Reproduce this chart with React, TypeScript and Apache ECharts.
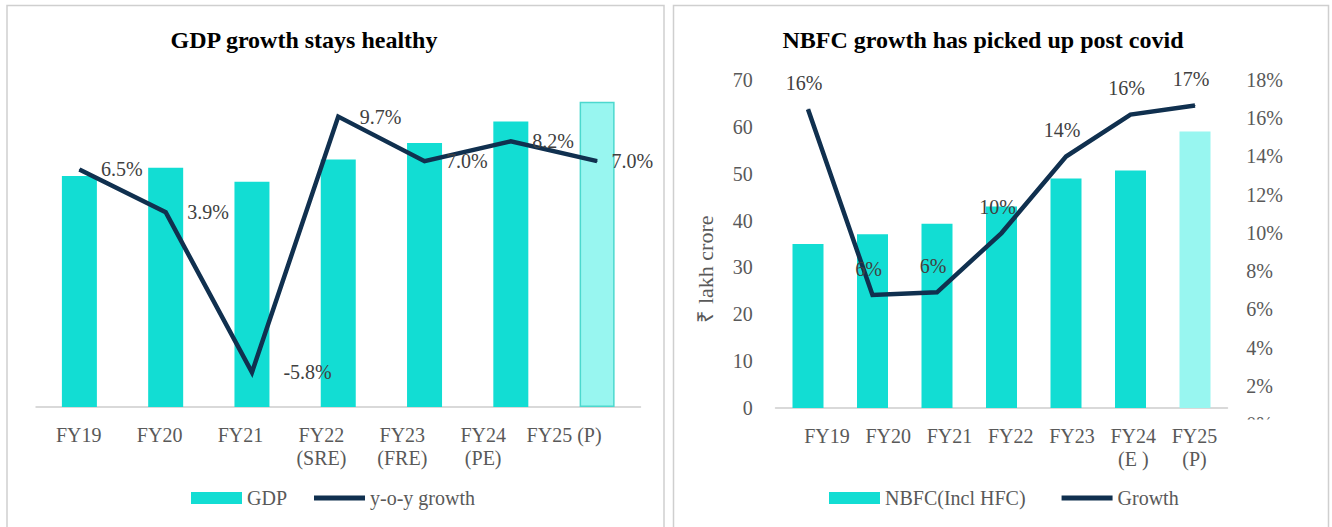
import React, { useEffect, useRef } from "react";
import * as echarts from "echarts";

// ---- Left chart data ----
const gdpCategories = ["FY19", "FY20", "FY21", "FY22\n(SRE)", "FY23\n(FRE)", "FY24\n(PE)", "FY25 (P)"];
const gdpValues = [140, 145, 136.5, 150, 160, 173, 185];
const gdpGrowth = [6.5, 3.9, -5.8, 9.7, 7.0, 8.2, 7.0];

// ---- Right chart data ----
const nbfcCategories = ["FY19", "FY20", "FY21", "FY22", "FY23", "FY24\n(E )", "FY25\n(P)"];
const nbfcValues = [35, 37.1, 39.3, 43, 49, 50.7, 59];
const nbfcGrowth = [16.4, 6.2, 6.35, 9.6, 13.8, 16.1, 16.6];
const nbfcGrowthLabels = ["16%", "6%", "6%", "10%", "14%", "16%", "17%"];
const leftAxisTicks = { min: 0, max: 70, interval: 10 };
const rightAxisTicks = { min: 0, max: 18, interval: 2 };

const FONT = "'Liberation Serif', 'Times New Roman', serif";
const TEAL = "#12DDD3";
const TEAL_LIGHT = "#98F6F0";
const NAVY = "#10304F";
const AXIS_TEXT = "#595959";
const DATA_TEXT = "#404040";

export default function App() {
  const ref = useRef<HTMLDivElement>(null);

  useEffect(() => {
    if (!ref.current) return;
    const chart = echarts.init(ref.current, undefined, { renderer: "svg" });

    const hiddenCat = (grid: number, data: string[]) => ({
      type: "category",
      gridIndex: grid,
      data,
      show: false,
    });

    const labelAxis = (grid: number, data: string[]) => ({
      type: "category",
      gridIndex: grid,
      data,
      axisLine: { show: false },
      axisTick: { show: false },
      axisLabel: {
        interval: 0,
        fontSize: 20,
        fontFamily: FONT,
        color: AXIS_TEXT,
        margin: 16,
        lineHeight: 23,
      },
    });

    const option: any = {
      animation: false,
      backgroundColor: "#ffffff",
      textStyle: { fontFamily: FONT },
      grid: [
        { left: 36.25, top: 77, width: 604, height: 330, outerBoundsMode: "none" },
        { left: 38.25, top: 77, width: 566.3, height: 330, outerBoundsMode: "none" },
        { left: 775.75, top: 80, width: 451.5, height: 328, outerBoundsMode: "none" },
        { left: 796.4, top: 80, width: 428.75, height: 328, outerBoundsMode: "none" },
        { left: 775.75, top: 80, width: 451.5, height: 344, outerBoundsMode: "none" },
      ],
      xAxis: [
        {
          type: "category",
          gridIndex: 0,
          data: gdpCategories,
          axisLine: { show: true, lineStyle: { color: "#d9d9d9", width: 2 } },
          axisTick: { show: false },
          axisLabel: { show: false },
        },
        labelAxis(1, gdpCategories),
        {
          type: "category",
          gridIndex: 2,
          data: nbfcCategories,
          axisLine: { show: true, lineStyle: { color: "#d9d9d9", width: 2 } },
          axisTick: { show: false },
          axisLabel: { show: false },
        },
        labelAxis(3, nbfcCategories),
        hiddenCat(4, nbfcCategories),
      ],
      yAxis: [
        { type: "value", gridIndex: 0, min: 0, max: 200, show: false },
        { type: "value", gridIndex: 0, min: -7.9, max: 12.1, show: false },
        { type: "value", gridIndex: 1, min: 0, max: 1, show: false },
        {
          type: "value",
          gridIndex: 2,
          position: "left",
          min: leftAxisTicks.min,
          max: leftAxisTicks.max,
          interval: leftAxisTicks.interval,
          axisLine: { show: false },
          axisTick: { show: false },
          splitLine: { show: false },
          axisLabel: { fontSize: 20, fontFamily: FONT, color: AXIS_TEXT, margin: 23 },
        },
        { type: "value", gridIndex: 2, min: 0, max: 18, show: false },
        { type: "value", gridIndex: 3, min: 0, max: 1, show: false },
        {
          type: "value",
          gridIndex: 4,
          position: "right",
          min: rightAxisTicks.min,
          max: rightAxisTicks.max,
          interval: rightAxisTicks.interval,
          axisLine: { show: false },
          axisTick: { show: false },
          splitLine: { show: false },
          axisLabel: {
            fontSize: 20,
            fontFamily: FONT,
            color: AXIS_TEXT,
            margin: 19,
            formatter: "{value}%",
          },
        },
      ],
      legend: [
        {
          left: 191,
          top: 488,
          padding: 0,
          itemWidth: 51,
          itemHeight: 12,
          itemGap: 27,
          textStyle: { fontSize: 20, fontFamily: FONT, color: AXIS_TEXT },
          data: [
            { name: "GDP", icon: "rect" },
            { name: "y-o-y growth", icon: "path://M0,0 L51,0 L51,5 L0,5 Z" },
          ],
          selectedMode: false,
        },
        {
          left: 829,
          top: 488,
          padding: 0,
          itemWidth: 51,
          itemHeight: 12,
          itemGap: 36,
          textStyle: { fontSize: 20, fontFamily: FONT, color: AXIS_TEXT },
          data: [
            { name: "NBFC(Incl HFC)", icon: "rect" },
            { name: "Growth", icon: "path://M0,0 L51,0 L51,5 L0,5 Z" },
          ],
          selectedMode: false,
        },
      ],
      series: [
        {
          name: "GDP",
          type: "bar",
          xAxisIndex: 0,
          yAxisIndex: 0,
          barWidth: 35,
          itemStyle: { color: TEAL },
          data: gdpValues.map((v, i) =>
            i === gdpValues.length - 1
              ? { value: v, itemStyle: { color: TEAL_LIGHT, borderColor: "#4CD8CE", borderWidth: 1.5 } }
              : v
          ),
          z: 2,
        },
        {
          name: "y-o-y growth",
          type: "line",
          xAxisIndex: 0,
          yAxisIndex: 1,
          symbol: "circle",
          symbolSize: 1,
          itemStyle: { color: NAVY },
          lineStyle: { color: NAVY, width: 4.5, join: "miter" },
          label: {
            show: true,
            position: "right",
            distance: 21,
            fontSize: 20,
            fontFamily: FONT,
            color: DATA_TEXT,
            formatter: (p: any) => `${Number(p.value).toFixed(1)}%`,
          },
          data: gdpGrowth.map((v, i) => {
            if (i === 2) return { value: v, label: { offset: [10, 0] } };
            if (i === gdpGrowth.length - 1) return { value: v, label: { offset: [-7, 0] } };
            return v;
          }),
          z: 5,
        },
        {
          name: "NBFC(Incl HFC)",
          type: "bar",
          xAxisIndex: 2,
          yAxisIndex: 3,
          barWidth: 31,
          itemStyle: { color: TEAL },
          data: nbfcValues.map((v, i) =>
            i === nbfcValues.length - 1 ? { value: v, itemStyle: { color: TEAL_LIGHT } } : v
          ),
          z: 2,
        },
        {
          name: "Growth",
          type: "line",
          xAxisIndex: 2,
          yAxisIndex: 4,
          symbol: "circle",
          symbolSize: 1,
          itemStyle: { color: NAVY },
          lineStyle: { color: NAVY, width: 4.5, join: "miter" },
          label: {
            show: true,
            position: "top",
            distance: 16,
            offset: [-4, 0],
            fontSize: 20,
            fontFamily: FONT,
            color: DATA_TEXT,
            formatter: (p: any) => nbfcGrowthLabels[p.dataIndex],
          },
          data: nbfcGrowth,
          z: 5,
        },
      ],
      graphic: [
        {
          type: "rect",
          shape: { x: 7, y: 5.5, width: 657, height: 540 },
          style: { fill: "none", stroke: "#cfcfcf", lineWidth: 1.5 },
          silent: true,
          z: -10,
        },
        {
          type: "rect",
          shape: { x: 673.5, y: 5.5, width: 655, height: 540 },
          style: { fill: "none", stroke: "#cfcfcf", lineWidth: 1.5 },
          silent: true,
          z: -10,
        },
        {
          type: "text",
          x: 304,
          y: 40,
          style: {
            text: "GDP growth stays healthy",
            fontSize: 24,
            fontWeight: "bold",
            fontFamily: FONT,
            fill: "#000000",
            align: "center",
            verticalAlign: "middle",
          },
        },
        {
          type: "text",
          x: 983,
          y: 40,
          style: {
            text: "NBFC growth has picked up post covid",
            fontSize: 24,
            fontWeight: "bold",
            fontFamily: FONT,
            fill: "#000000",
            align: "center",
            verticalAlign: "middle",
          },
        },
        {
          type: "text",
          x: 705,
          y: 269,
          rotation: Math.PI / 2,
          style: {
            text: "₹ lakh crore",
            fontSize: 22,
            fontFamily: FONT,
            fill: AXIS_TEXT,
            align: "center",
            verticalAlign: "middle",
          },
        },
        {
          type: "rect",
          shape: { x: 1238, y: 419.5, width: 60, height: 20 },
          style: { fill: "#ffffff" },
          silent: true,
          z: 100,
        },
      ],
    };

    chart.setOption(option);
    return () => chart.dispose();
  }, []);

  return (
    <div
      ref={ref}
      style={{ position: "absolute", left: 0, top: 0, width: 1332, height: 527 }}
    />
  );
}
